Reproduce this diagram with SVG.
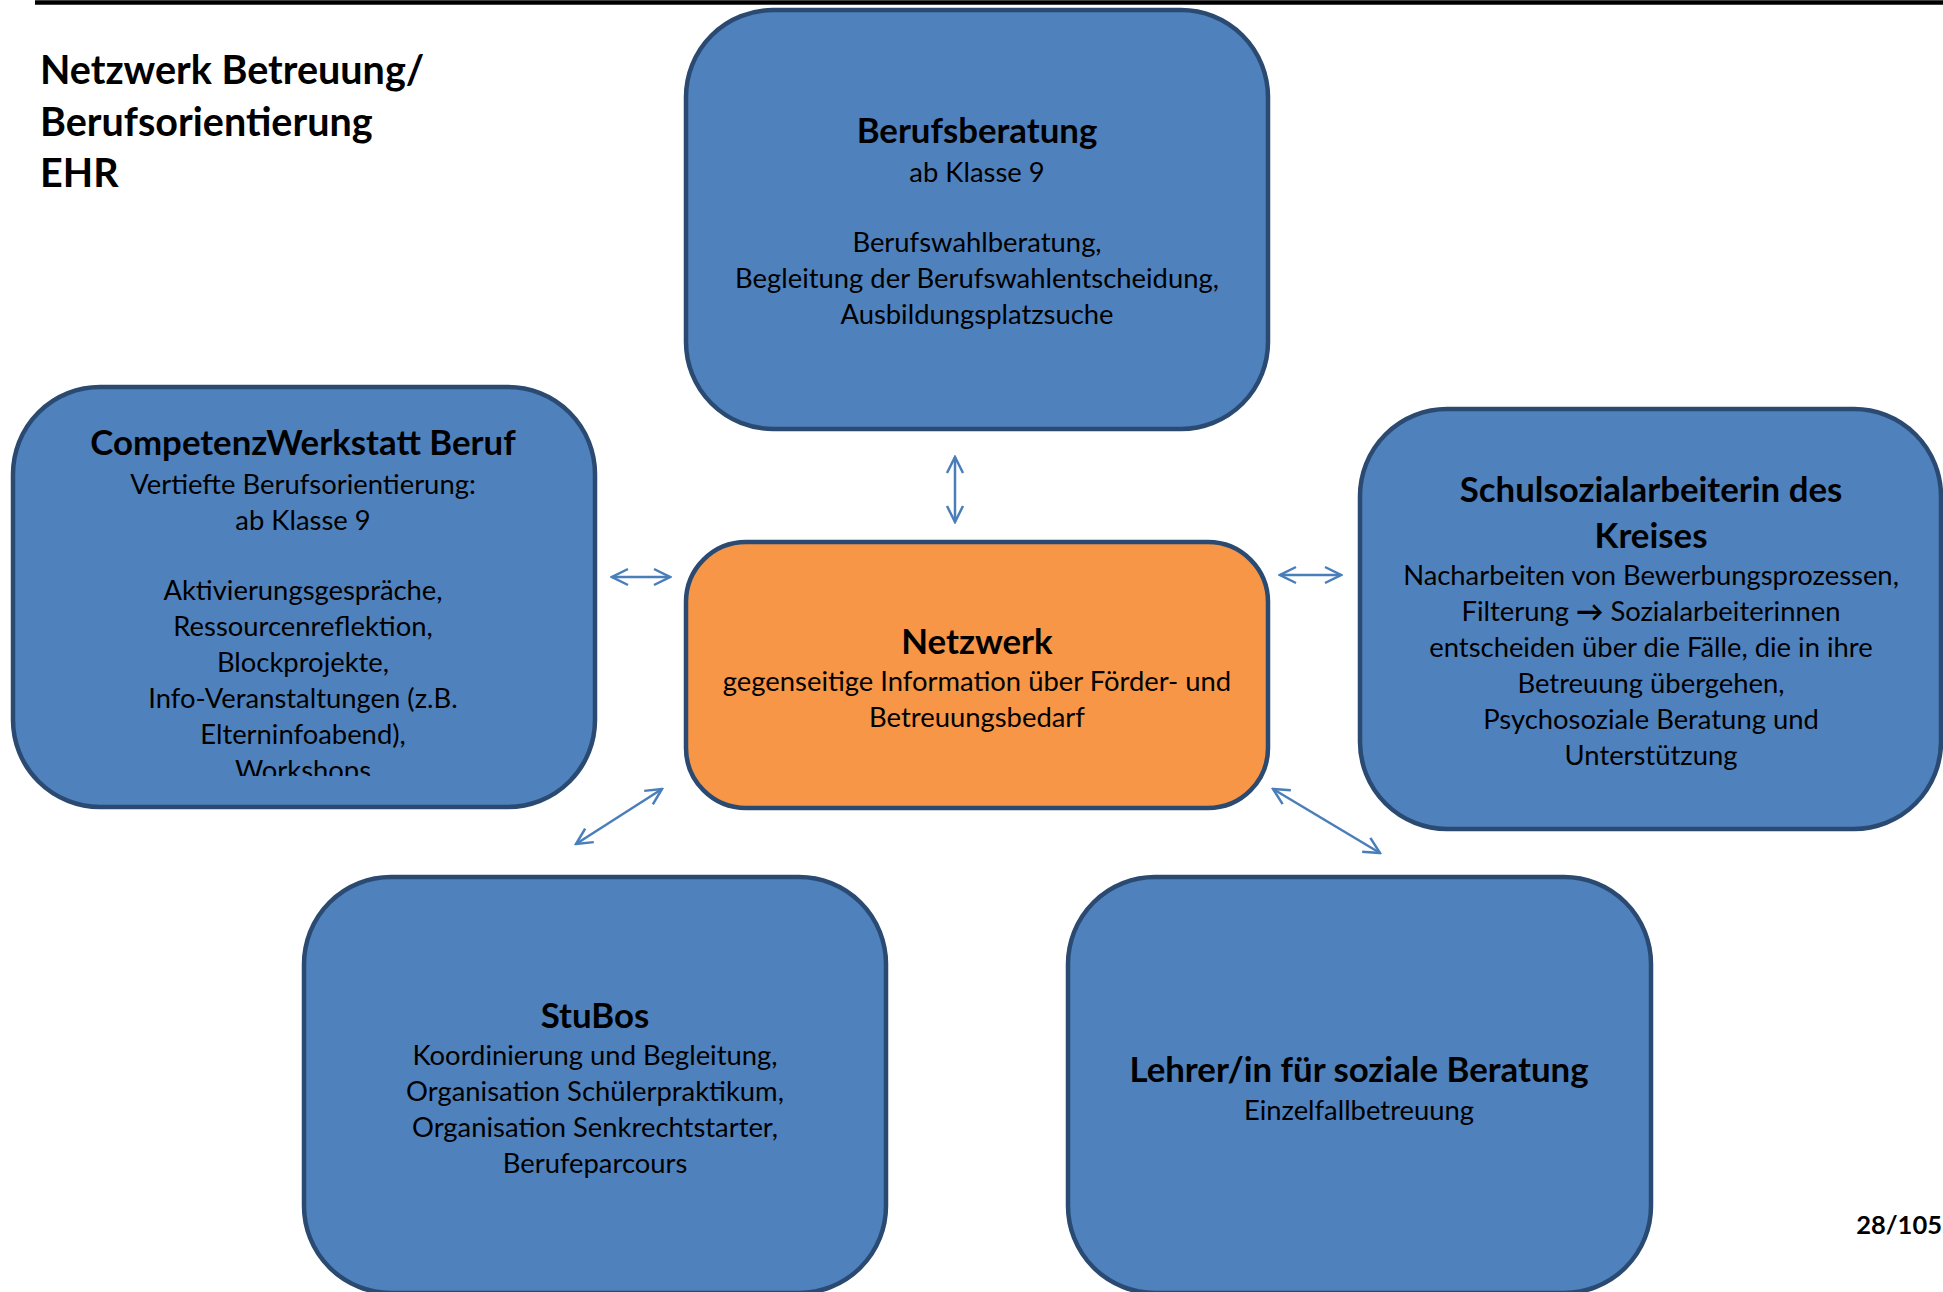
<svg xmlns="http://www.w3.org/2000/svg" width="1943" height="1292" viewBox="0 0 1943 1292">
<style>
.box{fill:#4F81BD;stroke:#2A4A72;stroke-width:4.5}
.org{fill:#F79646;stroke:#2A4A72;stroke-width:4.5}
text{font-family:Lato,"Open Sans","Liberation Sans",sans-serif;fill:#000;text-anchor:middle}
.h{font-weight:bold;font-size:34.8px}
.b{font-size:27.4px}
.t{font-weight:bold;font-size:39.5px;text-anchor:start}
.con{stroke:#4A7EBB;stroke-width:2.5;fill:none;marker-start:url(#ah);marker-end:url(#ah)}
</style>
<defs>
<marker id="ah" markerUnits="userSpaceOnUse" viewBox="0 0 20 20" refX="18" refY="10" markerWidth="20" markerHeight="20" orient="auto-start-reverse">
<path d="M2,2 L18,10 L2,18" fill="none" stroke="#4A7EBB" stroke-width="2.5"/>
</marker>
<clipPath id="cwclip"><rect x="12" y="387" width="583" height="389"/></clipPath>
</defs>
<line x1="35" y1="2.5" x2="1943" y2="2.5" stroke="#000" stroke-width="4.5"/>
<g id="title">
<text class="t" x="40" y="83.5">Netzwerk Betreuung/</text>
<text class="t" x="40" y="135.5">Berufsorientierung</text>
<text class="t" x="40" y="186.5">EHR</text>
</g>
<g id="berufsberatung">
<rect class="box" x="686" y="10" width="582" height="419" rx="87"/>
<text class="h" x="977" y="142.5">Berufsberatung</text>
<text class="b" x="977" y="181.5">ab Klasse 9</text>
<text class="b" x="977" y="251.5">Berufswahlberatung,</text>
<text class="b" x="977" y="287.5">Begleitung der Berufswahlentscheidung,</text>
<text class="b" x="977" y="323.5">Ausbildungsplatzsuche</text>
</g>
<g id="competenzwerkstatt">
<rect class="box" x="13" y="387" width="582" height="420" rx="87"/>
<g clip-path="url(#cwclip)">
<text class="h" x="303" y="454.5">CompetenzWerkstatt Beruf</text>
<text class="b" x="303" y="493.5">Vertiefte Berufsorientierung:</text>
<text class="b" x="303" y="529.5">ab Klasse 9</text>
<text class="b" x="303" y="599.5">Aktivierungsgespräche,</text>
<text class="b" x="303" y="635.5">Ressourcenreflektion,</text>
<text class="b" x="303" y="671.5">Blockprojekte,</text>
<text class="b" x="303" y="707.5">Info-Veranstaltungen (z.B.</text>
<text class="b" x="303" y="743.5">Elterninfoabend),</text>
<text class="b" x="303" y="779.5">Workshops</text>
</g>
</g>
<g id="netzwerk">
<rect class="org" x="686" y="542" width="582" height="266" rx="60"/>
<text class="h" x="977" y="653.5">Netzwerk</text>
<text class="b" x="977" y="690.5">gegenseitige Information über Förder- und</text>
<text class="b" x="977" y="726.5">Betreuungsbedarf</text>
</g>
<g id="schulsozialarbeit">
<rect class="box" x="1360" y="409" width="581" height="420" rx="87"/>
<text class="h" x="1651" y="501.5">Schulsozialarbeiterin des</text>
<text class="h" x="1651" y="547.5">Kreises</text>
<text class="b" x="1651" y="584.5">Nacharbeiten von Bewerbungsprozessen,</text>
<text class="b" x="1651" y="620.5">Filterung <tspan font-weight="bold">→</tspan> Sozialarbeiterinnen</text>
<text class="b" x="1651" y="656.5">entscheiden über die Fälle, die in ihre</text>
<text class="b" x="1651" y="692.5">Betreuung übergehen,</text>
<text class="b" x="1651" y="728.5">Psychosoziale Beratung und</text>
<text class="b" x="1651" y="764.5">Unterstützung</text>
</g>
<g id="stubos">
<rect class="box" x="304" y="877" width="582" height="416" rx="87"/>
<text class="h" x="595" y="1027.5">StuBos</text>
<text class="b" x="595" y="1064.5">Koordinierung und Begleitung,</text>
<text class="b" x="595" y="1100.5">Organisation Schülerpraktikum,</text>
<text class="b" x="595" y="1136.5">Organisation Senkrechtstarter,</text>
<text class="b" x="595" y="1172.5">Berufeparcours</text>
</g>
<g id="lehrer">
<rect class="box" x="1068" y="877" width="583" height="416" rx="87"/>
<text class="h" x="1359" y="1081.5">Lehrer/in für soziale Beratung</text>
<text class="b" x="1359" y="1119.5">Einzelfallbetreuung</text>
</g>
<text id="pagenum" x="1942" y="1234" style="font-weight:bold;font-size:25.5px;text-anchor:end">28/105</text>
<g id="connectors">
<line class="con" x1="955" y1="457" x2="955" y2="522"/>
<line class="con" x1="612" y1="577" x2="670" y2="577"/>
<line class="con" x1="1280" y1="575" x2="1341" y2="575"/>
<line class="con" x1="662" y1="789" x2="576" y2="844"/>
<line class="con" x1="1273" y1="789" x2="1380" y2="853"/>
</g>
</svg>
